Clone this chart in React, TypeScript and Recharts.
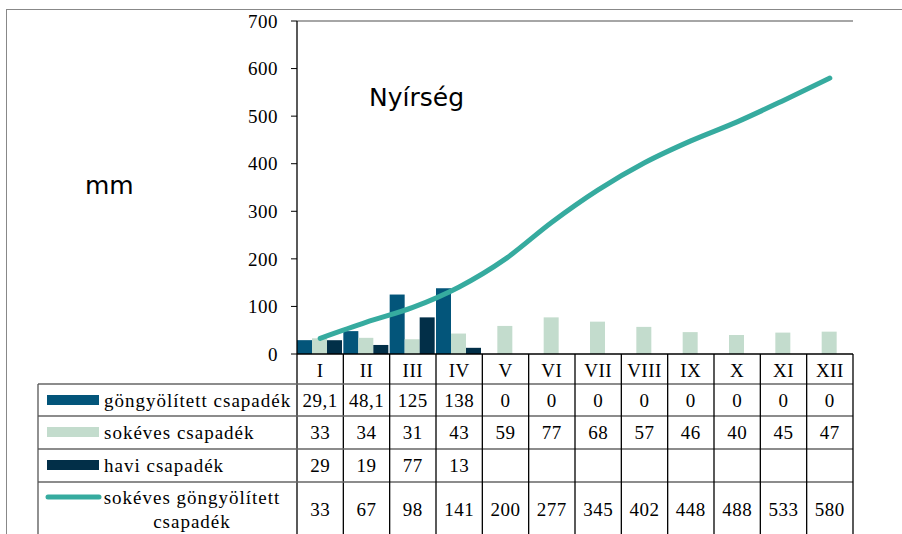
import { Bar, ComposedChart, Line, ReferenceLine, XAxis, YAxis } from 'recharts'

const months = ['I', 'II', 'III', 'IV', 'V', 'VI', 'VII', 'VIII', 'IX', 'X', 'XI', 'XII']
const gongyolitett = [29.1, 48.1, 125, 138, 0, 0, 0, 0, 0, 0, 0, 0]
const sokeves = [33, 34, 31, 43, 59, 77, 68, 57, 46, 40, 45, 47]
const havi = [29, 19, 77, 13, null, null, null, null, null, null, null, null]
const sokevesGongy = [33, 67, 98, 141, 200, 277, 345, 402, 448, 488, 533, 580]
const yTicks = [0, 100, 200, 300, 400, 500, 600, 700]

const data = months.map((m, i) => ({
  month: m,
  gongyolitett: gongyolitett[i],
  sokeves: sokeves[i],
  havi: havi[i],
  sokevesGongy: sokevesGongy[i],
}))

const C_GONGY = '#03557a'
const C_SOKEVES = '#c3dccd'
const C_HAVI = '#022f48'
const C_LINE = '#36ab9f'

const SERIF = 'Liberation Serif, DejaVu Serif, serif'
const SANS = 'DejaVu Sans, Verdana, sans-serif'

const PLOT_LEFT = 297
const PLOT_RIGHT = 853
const BAND = (PLOT_RIGHT - PLOT_LEFT) / months.length
const TABLE_LEFT = 38
const BOTTOM = 534

const rows = [
  { label: 'göngyölített csapadék', values: gongyolitett, color: C_GONGY, kind: 'bar', mid: 46 },
  { label: 'sokéves csapadék', values: sokeves, color: C_SOKEVES, kind: 'bar', mid: 78 },
  { label: 'havi csapadék', values: havi, color: C_HAVI, kind: 'bar', mid: 111 },
  { label: 'sokéves göngyölített', label2: 'csapadék', values: sokevesGongy, color: C_LINE, kind: 'line', mid: 155 },
]
const rowLines = [30, 62, 95, 128]

const fmt = (v: number | null) => (v === null ? '' : String(v).replace('.', ','))

const FS = 19

const T = (p: any) => (
  <text
    x={p.x}
    y={p.y}
    textAnchor={p.anchor ?? 'middle'}
    dominantBaseline="central"
    fill="#000"
    fontFamily={SERIF}
    fontSize={FS}
    letterSpacing={p.ls ?? 0.5}
  >
    {p.children}
  </text>
)

const TableTick = (props: any) => {
  const { x, y, payload } = props
  const i = payload.index ?? props.index
  const half = BAND / 2
  return (
    <g>
      <T x={x} y={y + 16}>{payload.value}</T>
      <line x1={x + half} x2={x + half} y1={y} y2={BOTTOM} stroke="#000" strokeWidth={1.3} />
      {i === 0 && <line x1={x - half} x2={x - half} y1={y} y2={BOTTOM} stroke="#000" strokeWidth={1.3} />}
      {rows.map((r, k) => (
        <T key={k} x={x} y={y + r.mid}>{fmt(r.values[i] as number | null)}</T>
      ))}
      {i === 0 && (
        <g>
          {rowLines.map((d) => (
            <line key={d} x1={TABLE_LEFT} x2={PLOT_RIGHT} y1={y + d} y2={y + d} stroke="#666" strokeWidth={1.3} />
          ))}
          <line x1={TABLE_LEFT} x2={TABLE_LEFT} y1={y + 30} y2={BOTTOM} stroke="#555" strokeWidth={1.3} />
          {rows.map((r, k) =>
            r.kind === 'bar' ? (
              <g key={k}>
                <rect x={47} y={y + r.mid - 5} width={52} height={10} fill={r.color} />
                <T x={104} y={y + r.mid} anchor="start" ls={1}>{r.label}</T>
              </g>
            ) : (
              <g key={k}>
                <line x1={48} x2={99} y1={y + r.mid - 12} y2={y + r.mid - 12} stroke={r.color} strokeWidth={5} strokeLinecap="round" />
                <T x={192} y={y + r.mid - 12} ls={1}>{r.label}</T>
                <T x={192} y={y + r.mid + 12} ls={1}>{r.label2}</T>
              </g>
            )
          )}
        </g>
      )}
    </g>
  )
}

export default function App() {
  return (
    <div style={{ position: 'absolute', left: 0, top: 0, width: 902, height: 534, background: '#fff', overflow: 'hidden' }}>
      <div
        style={{
          position: 'absolute',
          left: 6,
          top: 9,
          width: 1000,
          height: 600,
          borderTop: '1.5px solid #888',
          borderLeft: '1.5px solid #888',
        }}
      />
      <ComposedChart
        width={902}
        height={534}
        data={data}
        margin={{ top: 21, right: 902 - PLOT_RIGHT, bottom: 0, left: 0 }}
        barCategoryGap={0}
        barGap={0}
        style={{ position: 'absolute', left: 0, top: 0 }}
      >
        <XAxis
          dataKey="month"
          height={180}
          tickSize={0}
          tickMargin={0}
          axisLine={{ stroke: '#000', strokeWidth: 1.3 }}
          tick={<TableTick />}
          interval={0}
        />
        <YAxis
          width={PLOT_LEFT}
          domain={[0, 700]}
          ticks={yTicks}
          interval={0}
          tickSize={6}
          tickMargin={13}
          axisLine={{ stroke: '#000', strokeWidth: 1.3 }}
          tickLine={{ stroke: '#000' }}
          tick={{ fill: '#000', fontFamily: SERIF, fontSize: FS, letterSpacing: 0.5 }}
        />
        <ReferenceLine y={700} stroke="#888" strokeWidth={1.5} />
        <ReferenceLine x="XII" position="end" stroke="#888" strokeWidth={1.5} />
        <Bar dataKey="gongyolitett" fill={C_GONGY} isAnimationActive={false} />
        <Bar dataKey="sokeves" fill={C_SOKEVES} isAnimationActive={false} />
        <Bar dataKey="havi" fill={C_HAVI} isAnimationActive={false} />
        <Line
          dataKey="sokevesGongy"
          type="monotone"
          stroke={C_LINE}
          strokeWidth={5}
          strokeLinecap="round"
          dot={false}
          activeDot={false}
          isAnimationActive={false}
        />
      </ComposedChart>
      <div style={{ position: 'absolute', left: 369, top: 83, fontFamily: SANS, fontSize: 25, color: '#000', lineHeight: '30px' }}>
        Nyírség
      </div>
      <div style={{ position: 'absolute', left: 85, top: 171, fontFamily: SANS, fontSize: 25, color: '#000', lineHeight: '30px' }}>
        mm
      </div>
    </div>
  )
}
